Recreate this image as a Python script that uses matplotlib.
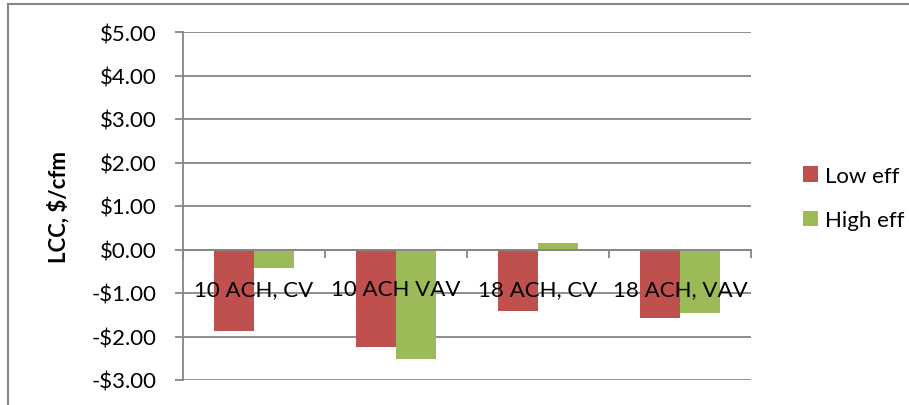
import numpy as np
import matplotlib
matplotlib.use("Agg")
import matplotlib.pyplot as plt
from matplotlib.lines import Line2D
from matplotlib.ticker import FuncFormatter, FixedLocator

plt.rcParams['font.family'] = ['Lato', 'DejaVu Sans']

# data
categories = ['10 ACH, CV', '10 ACH VAV', '18 ACH, CV', '18 ACH, VAV']
low_eff = [-1.88, -2.24, -1.42, -1.58]
high_eff = [-0.43, -2.51, 0.14, -1.45]
series_names = ['Low eff', 'High eff']
y_ticks = [-3, -2, -1, 0, 1, 2, 3, 4, 5]

grey = '#868686'
red = '#C0504D'
green = '#9BBB59'
fs = 16

fig = plt.figure(figsize=(9.09, 4.06), dpi=100)
ax = fig.add_axes([183 / 909, 25 / 406, 568 / 909, 348 / 406])

x = np.arange(len(categories))
w = 0.285
ax.bar(x - w / 2, low_eff, w, color=red, label=series_names[0], zorder=2)
ax.bar(x + w / 2, high_eff, w, color=green, label=series_names[1], zorder=2)

ax.set_xlim(-0.5, len(categories) - 0.5)
ax.set_ylim(-3, 5)
ax.set_yticks(y_ticks)
ax.yaxis.set_major_formatter(FuncFormatter(
    lambda v, p: ('-$%.2f' % abs(v)) if v < 0 else ('$%.2f' % v)))
ax.yaxis.grid(True, color=grey, linewidth=1.3)
ax.set_axisbelow(True)

ax.set_xticks(x)
ax.set_xticklabels(categories)
ax.xaxis.set_minor_locator(FixedLocator(np.arange(-0.5, len(categories), 1.0)))
ax.tick_params(axis='x', which='major', length=0, pad=21, labelsize=fs)
ax.tick_params(axis='x', which='minor', length=6, width=1.3, color=grey, direction='out')
ax.tick_params(axis='y', length=6, width=1.3, color=grey, pad=13, labelsize=fs)
ax.xaxis.set_zorder(5)

for s in ['top', 'right']:
    ax.spines[s].set_visible(False)
ax.spines['bottom'].set_position(('data', 0))
ax.spines['bottom'].set_color(grey)
ax.spines['bottom'].set_linewidth(1.3)
ax.spines['bottom'].set_zorder(3)
ax.spines['left'].set_color(grey)
ax.spines['left'].set_linewidth(1.3)

ax.set_ylabel('LCC, $/cfm', fontsize=fs, fontweight='bold')
ax.yaxis.set_label_coords(-0.199, 0.5)

ax.legend(loc='center left', bbox_to_anchor=(783 / 909, 207 / 406),
          bbox_transform=fig.transFigure, frameon=False, fontsize=fs,
          handlelength=0.68, handleheight=0.68, handletextpad=0.3,
          labelspacing=1.1)

# outer chart border (left and top visible)
fig.add_artist(Line2D([8 / 909, 8 / 909], [0, 401 / 406], color=grey, linewidth=1.5))
fig.add_artist(Line2D([8 / 909, 1], [401 / 406, 401 / 406], color=grey, linewidth=1.5))

fig.savefig('out.png', dpi=100)
